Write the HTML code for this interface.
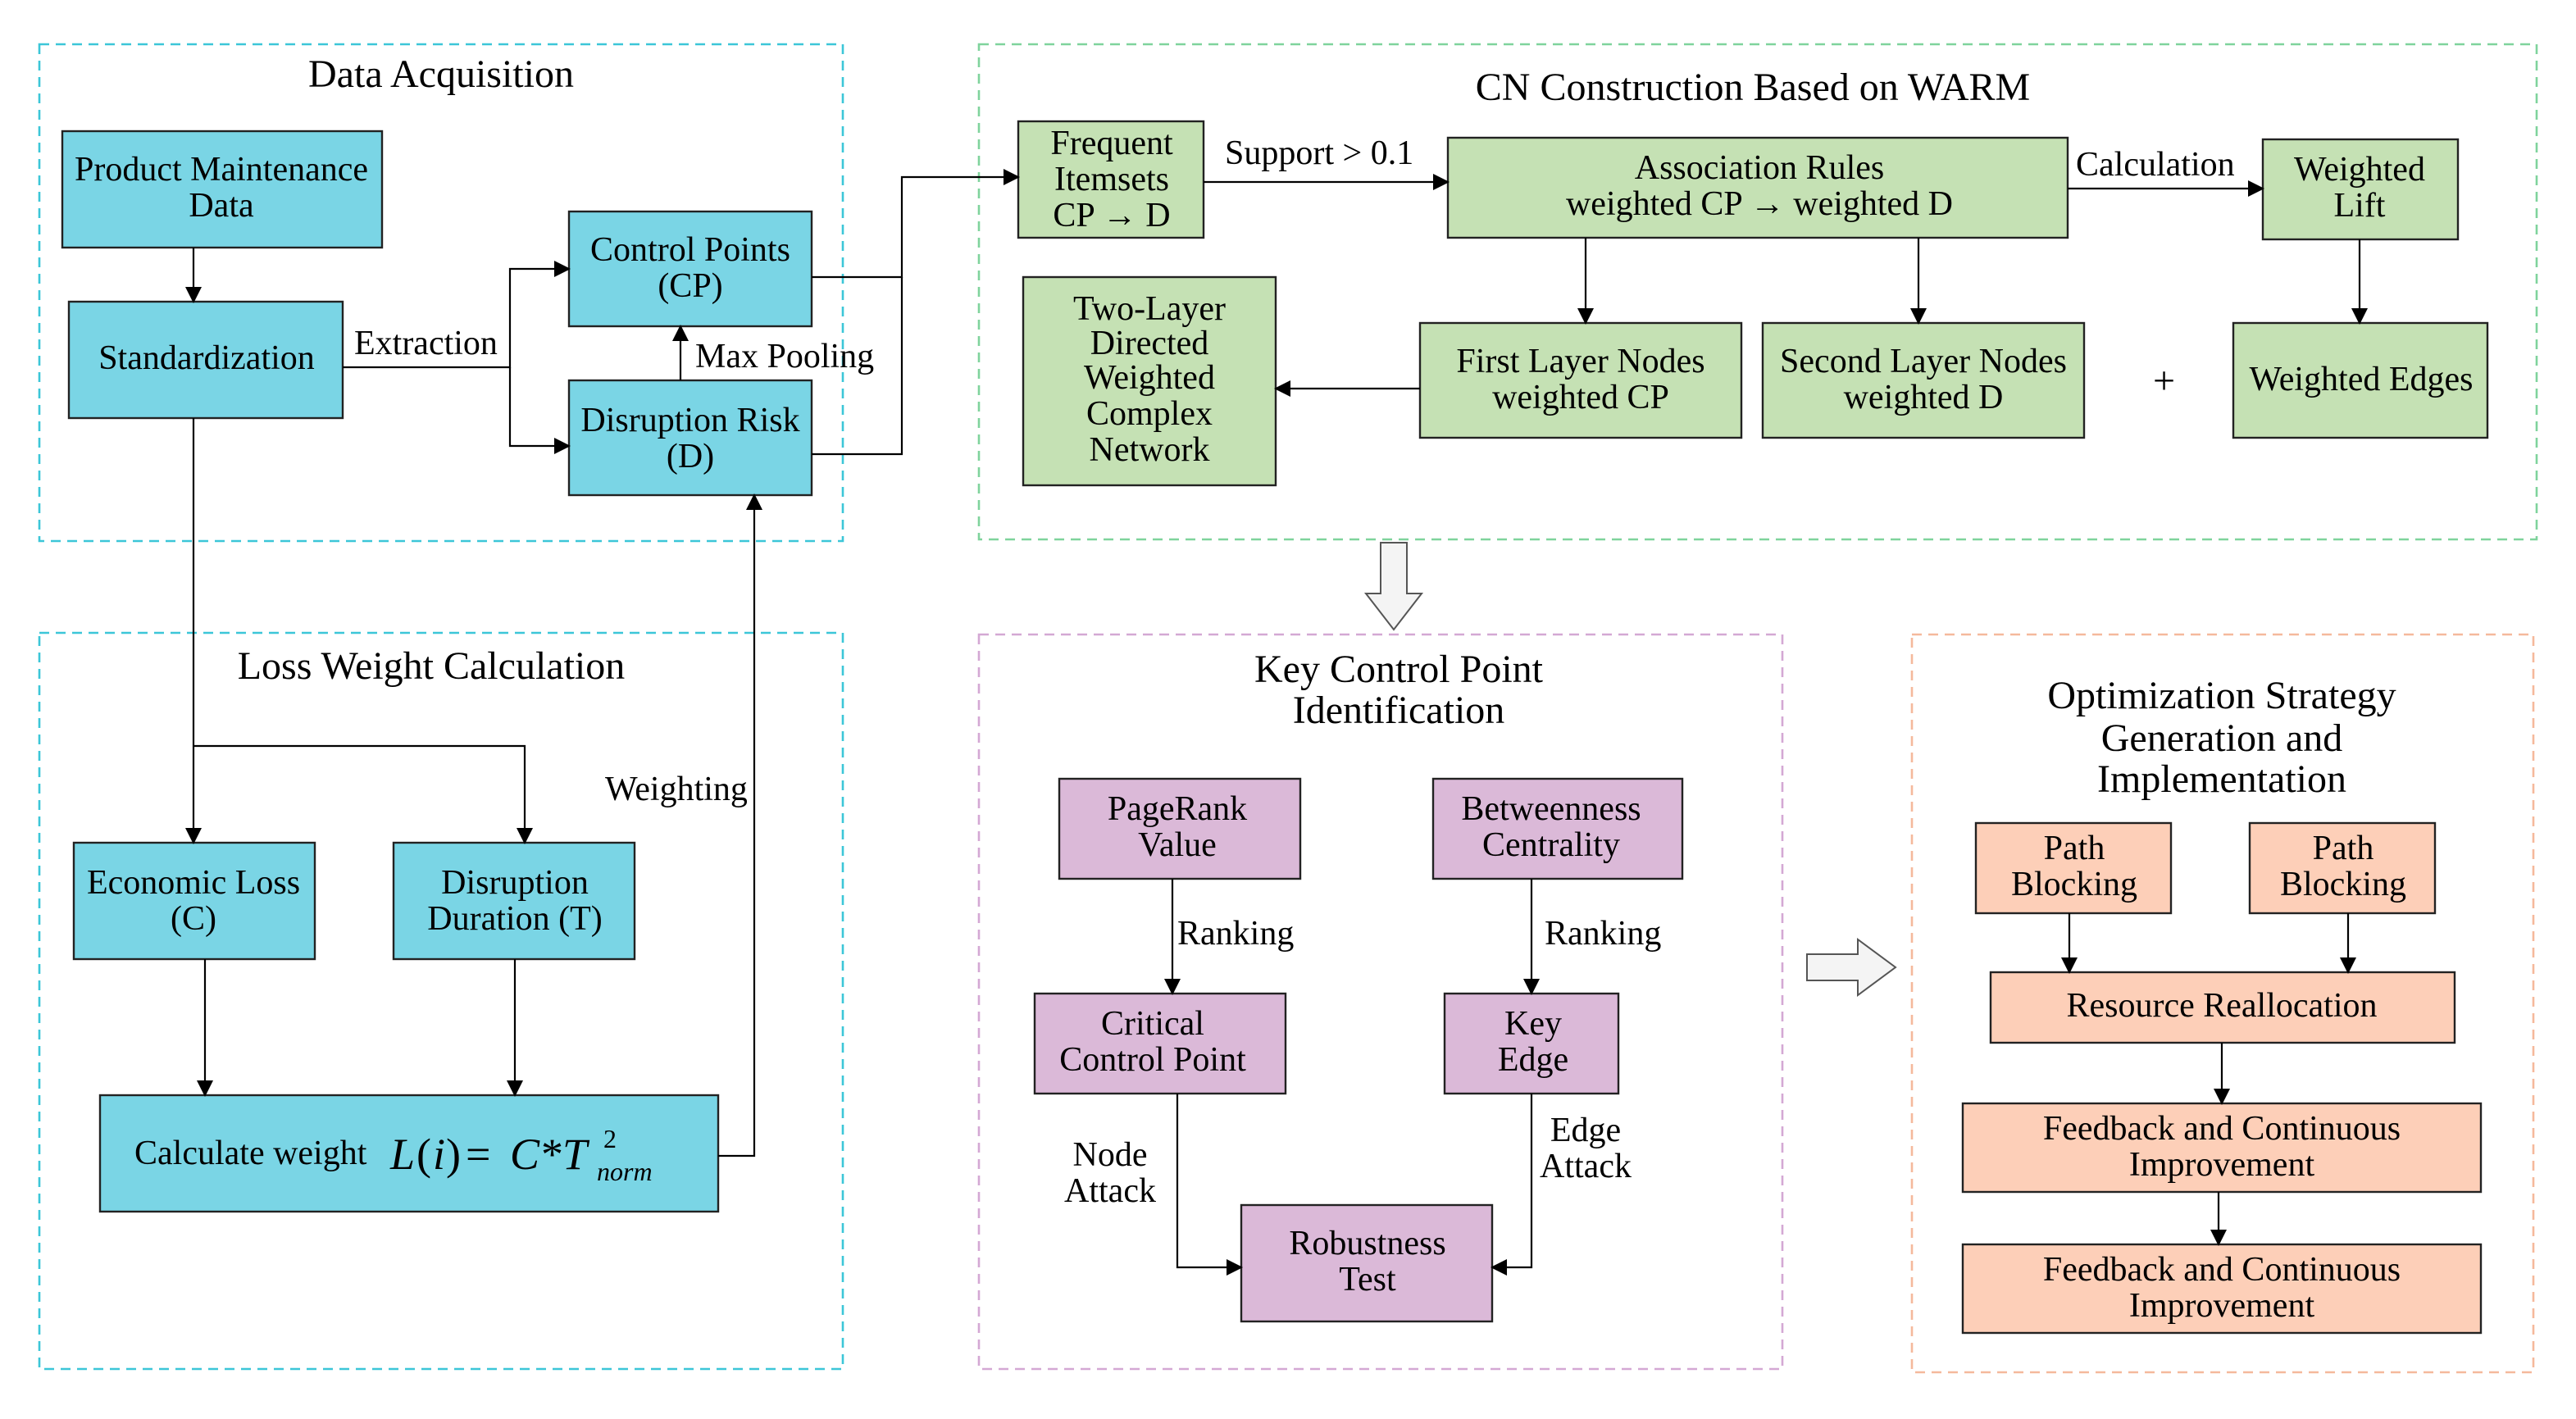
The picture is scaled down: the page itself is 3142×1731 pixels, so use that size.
<!DOCTYPE html>
<html><head><meta charset="utf-8"><style>
html,body{margin:0;padding:0;background:#fff;}
svg{display:block;font-family:"Liberation Serif","Times New Roman",Times,serif;}
svg text{font-family:"Liberation Serif","Times New Roman",Times,serif;fill:#000;}
</style></head><body>
<svg width="3142" height="1731" viewBox="0 0 1571 865.5" xmlns="http://www.w3.org/2000/svg" font-family="Liberation Serif, Times New Roman, serif">
<defs>
<marker id="a" markerWidth="10" markerHeight="10" refX="9" refY="5" orient="auto" markerUnits="userSpaceOnUse">
<path d="M0,0 L10,5 L0,10 z" fill="#000"/></marker>
</defs>
<rect width="1571" height="865.5" fill="#fff"/>
<g fill="none" stroke-width="1.3" stroke-dasharray="6,4">
<rect x="24" y="27" width="490" height="303" stroke="#3cc6d8"/>
<rect x="24" y="386" width="490" height="449" stroke="#3cc6d8"/>
<rect x="597" y="27" width="950" height="302" stroke="#7fd39c"/>
<rect x="597" y="387" width="490" height="448" stroke="#d4a8d4"/>
<rect x="1166" y="387" width="379" height="450" stroke="#f5b99c"/>
</g>
<g font-size="24" text-anchor="middle">
<text x="269" y="53">Data Acquisition</text>
<text x="263" y="414">Loss Weight Calculation</text>
<text x="1069" y="61">CN Construction Based on WARM</text>
<text x="853" y="416">Key Control Point</text>
<text x="853" y="441">Identification</text>
<text x="1355" y="432">Optimization Strategy</text>
<text x="1355" y="458">Generation and</text>
<text x="1355" y="483">Implementation</text>
</g>
<g stroke="#222" stroke-width="1.2">
<g fill="#7ad5e5">
<rect x="38" y="80" width="195" height="71"/>
<rect x="42" y="184" width="167" height="71"/>
<rect x="347" y="129" width="148" height="70"/>
<rect x="347" y="232" width="148" height="70"/>
<rect x="45" y="514" width="147" height="71"/>
<rect x="240" y="514" width="147" height="71"/>
<rect x="61" y="668" width="377" height="71"/>
</g>
<g fill="#c5e1b4">
<rect x="621" y="74" width="113" height="71"/>
<rect x="883" y="84" width="378" height="61"/>
<rect x="1380" y="85" width="119" height="61"/>
<rect x="1362" y="197" width="155" height="70"/>
<rect x="866" y="197" width="196" height="70"/>
<rect x="1075" y="197" width="196" height="70"/>
<rect x="624" y="169" width="154" height="127"/>
</g>
<g fill="#dbb9d8">
<rect x="646" y="475" width="147" height="61"/>
<rect x="874" y="475" width="152" height="61"/>
<rect x="631" y="606" width="153" height="61"/>
<rect x="881" y="606" width="106" height="61"/>
<rect x="757" y="735" width="153" height="71"/>
</g>
<g fill="#fdcfb8">
<rect x="1205" y="502" width="119" height="55"/>
<rect x="1372" y="502" width="113" height="55"/>
<rect x="1214" y="593" width="283" height="43"/>
<rect x="1197" y="673" width="316" height="54"/>
<rect x="1197" y="759" width="316" height="54"/>
</g>
</g>
<g fill="none" stroke="#000" stroke-width="1.1" marker-end="url(#a)">
<path d="M118,151 V184"/>
<path d="M209,224 H311 V164 H347"/>
<path d="M311,224 V272 H347"/>
<path d="M415,232 V199"/>
<path d="M495,169 H550 V108 H621"/>
<path d="M495,277 H550 V169" marker-end="none"/>
<path d="M118,255 V514"/>
<path d="M118,455 H320 V514"/>
<path d="M125,585 V668"/>
<path d="M314,585 V668"/>
<path d="M438,705 H460 V302"/>
<path d="M734,111 H883"/>
<path d="M1261,115 H1380"/>
<path d="M1439,146 V197"/>
<path d="M967,145 V197"/>
<path d="M1170,145 V197"/>
<path d="M866,237 H778"/>
<path d="M715,536 V606"/>
<path d="M934,536 V606"/>
<path d="M718,667 V773 H757"/>
<path d="M934,667 V773 H910"/>
<path d="M1262,557 V593"/>
<path d="M1432,557 V593"/>
<path d="M1355,636 V673"/>
<path d="M1353,727 V759"/>
</g>
<path d="M842,331 H858 V362 H867 L850,384 L833,362 H842 Z" fill="#f4f4f4" stroke="#555" stroke-width="1"/>
<path d="M1102,582 H1133 V573 L1156,590 L1133,607 V598 H1102 Z" fill="#f4f4f4" stroke="#555" stroke-width="1"/>
<g font-size="21" text-anchor="middle">
<text x="135" y="110">Product Maintenance</text><text x="135" y="132">Data</text>
<text x="126" y="225">Standardization</text>
<text x="421" y="159">Control Points</text><text x="421" y="181">(CP)</text>
<text x="421" y="263">Disruption Risk</text><text x="421" y="285">(D)</text>
<text x="118" y="545">Economic Loss</text><text x="118" y="567">(C)</text>
<text x="314" y="545">Disruption</text><text x="314" y="567">Duration (T)</text>
<text x="678" y="94">Frequent</text><text x="678" y="116">Itemsets</text><text x="678" y="138">CP → D</text>
<text x="1073" y="109">Association Rules</text><text x="1073" y="131">weighted CP → weighted D</text>
<text x="1439" y="110">Weighted</text><text x="1439" y="132">Lift</text>
<text x="1440" y="238">Weighted Edges</text>
<text x="964" y="227">First Layer Nodes</text><text x="964" y="249">weighted CP</text>
<text x="1173" y="227">Second Layer Nodes</text><text x="1173" y="249">weighted D</text>
<text x="701" y="195">Two-Layer</text><text x="701" y="216">Directed</text><text x="701" y="237">Weighted</text><text x="701" y="259">Complex</text><text x="701" y="281">Network</text>
<text x="718" y="500">PageRank</text><text x="718" y="522">Value</text>
<text x="946" y="500">Betweenness</text><text x="946" y="522">Centrality</text>
<text x="703" y="631">Critical</text><text x="703" y="653">Control Point</text>
<text x="935" y="631">Key</text><text x="935" y="653">Edge</text>
<text x="834" y="765">Robustness</text><text x="834" y="787">Test</text>
<text x="1265" y="524">Path</text><text x="1265" y="546">Blocking</text>
<text x="1429" y="524">Path</text><text x="1429" y="546">Blocking</text>
<text x="1355" y="620">Resource Reallocation</text>
<text x="1355" y="695">Feedback and Continuous</text><text x="1355" y="717">Improvement</text>
<text x="1355" y="781">Feedback and Continuous</text><text x="1355" y="803">Improvement</text>
</g>
<text x="82" y="710" font-size="21">Calculate weight</text>
<text x="238" y="713" font-size="27" font-style="italic">L</text>
<text x="254" y="713" font-size="27">(</text>
<text x="264" y="713" font-size="27" font-style="italic">i</text>
<text x="272" y="713" font-size="27">)</text>
<text x="284" y="713" font-size="27">=</text>
<text x="311" y="713" font-size="27" font-style="italic">C</text>
<text x="330" y="713" font-size="27">*</text>
<text x="343" y="713" font-size="27" font-style="italic">T</text>
<text x="368" y="700" font-size="16">2</text>
<text x="364" y="720" font-size="16" font-style="italic">norm</text>
<g font-size="21">
<text x="216" y="216">Extraction</text>
<text x="424" y="224">Max Pooling</text>
<text x="369" y="488">Weighting</text>
<text x="747" y="100">Support &gt; 0.1</text>
<text x="1266" y="107">Calculation</text>
<text x="1313" y="240" font-size="24">+</text>
<text x="718" y="576">Ranking</text>
<text x="942" y="576">Ranking</text>
<text x="677" y="711" text-anchor="middle">Node</text><text x="677" y="733" text-anchor="middle">Attack</text>
<text x="967" y="696" text-anchor="middle">Edge</text><text x="967" y="718" text-anchor="middle">Attack</text>
</g>
</svg>
</body></html>
